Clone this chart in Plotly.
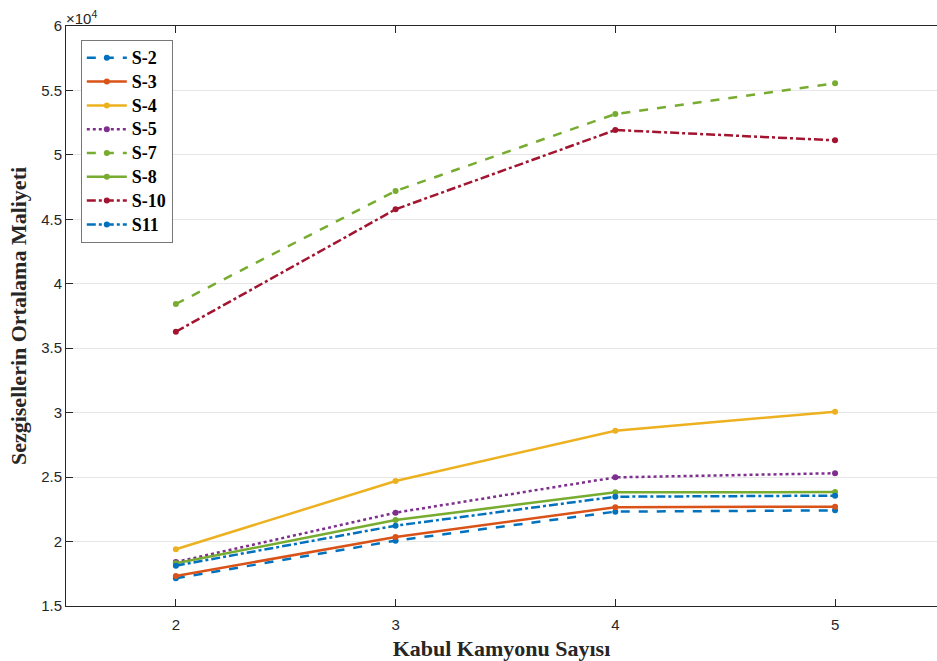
import plotly.graph_objects as go

x_vals = [2, 3, 4, 5]
series_names = ["S-2", "S-3", "S-4", "S-5", "S-7", "S-8", "S-10", "S11"]
s2 = [1.715, 2.007, 2.232, 2.242]
s3 = [1.733, 2.035, 2.266, 2.271]
s4 = [1.940, 2.470, 2.860, 3.008]
s5 = [1.841, 2.224, 2.498, 2.530]
s7 = [3.843, 4.720, 5.317, 5.555]
s8 = [1.831, 2.167, 2.382, 2.384]
s10 = [3.628, 4.578, 5.193, 5.113]
s11 = [1.813, 2.123, 2.348, 2.356]
series_values = [s2, s3, s4, s5, s7, s8, s10, s11]
colors = ["#0072BD", "#D95319", "#EDB120", "#7E2F8E", "#77AC30", "#77AC30", "#A2142F", "#0072BD"]
dashes = ["dash", "solid", "solid", "dot", "dash", "solid", "dashdot", "dashdot"]
y_ticks = [1.5, 2, 2.5, 3, 3.5, 4, 4.5, 5, 5.5, 6]
y_tick_labels = ["1.5", "2", "2.5", "3", "3.5", "4", "4.5", "5", "5.5", "6"]

fig = go.Figure()
for name, vals, c, d in zip(series_names, series_values, colors, dashes):
    fig.add_trace(go.Scatter(
        x=x_vals, y=vals,
        name='<span style="font-size:18px"><b>' + name + "</b></span>",
        mode="lines+markers",
        line=dict(color=c, width=2.5, dash=d),
        marker=dict(color=c, size=6),
    ))

tick_font = dict(family="Liberation Sans, Arial", size=15, color="#262626")
fig.update_layout(
    width=937, height=661,
    margin=dict(l=66, r=0, t=26, b=55),
    paper_bgcolor="white", plot_bgcolor="white",
    showlegend=True,
    legend=dict(
        x=0.017, y=0.976, xanchor="left", yanchor="top",
        bgcolor="white", bordercolor="#777777", borderwidth=1,
        font=dict(family="Liberation Serif, Times New Roman", size=16, color="black"),
        itemwidth=40, tracegroupgap=0,
    ),
    xaxis=dict(
        range=[1.5, 5.464], tickvals=x_vals, ticktext=[str(v) for v in x_vals],
        showgrid=False, zeroline=False,
        showline=True, linecolor="#262626", linewidth=1, mirror="ticks",
        ticks="inside", ticklen=7, tickcolor="#262626",
        tickfont=tick_font, ticklabelstandoff=5,
        title=dict(text="<b>Kabul Kamyonu Sayısı</b>", standoff=8,
                   font=dict(family="Liberation Serif, Times New Roman", size=22, color="#262626")),
    ),
    yaxis=dict(
        range=[1.5, 6], tickvals=y_ticks, ticktext=y_tick_labels,
        showgrid=True, gridcolor="#e6e6e6", gridwidth=1, zeroline=False,
        showline=True, linecolor="#262626", linewidth=1, mirror=False,
        ticks="inside", ticklen=7, tickcolor="#262626",
        tickfont=tick_font,
        title=dict(text="<b>Sezgisellerin Ortalama Maliyeti</b>", standoff=8,
                   font=dict(family="Liberation Serif, Times New Roman", size=22, color="#262626")),
    ),
    annotations=[dict(
        x=0, y=1, xref="paper", yref="paper", xanchor="left", yanchor="bottom",
        text="×10<sup>4</sup>", showarrow=False,
        font=dict(family="Liberation Sans, Arial", size=15, color="#262626"),
        xshift=-2, yshift=-3,
    )],
)

fig.write_html("out.html")
